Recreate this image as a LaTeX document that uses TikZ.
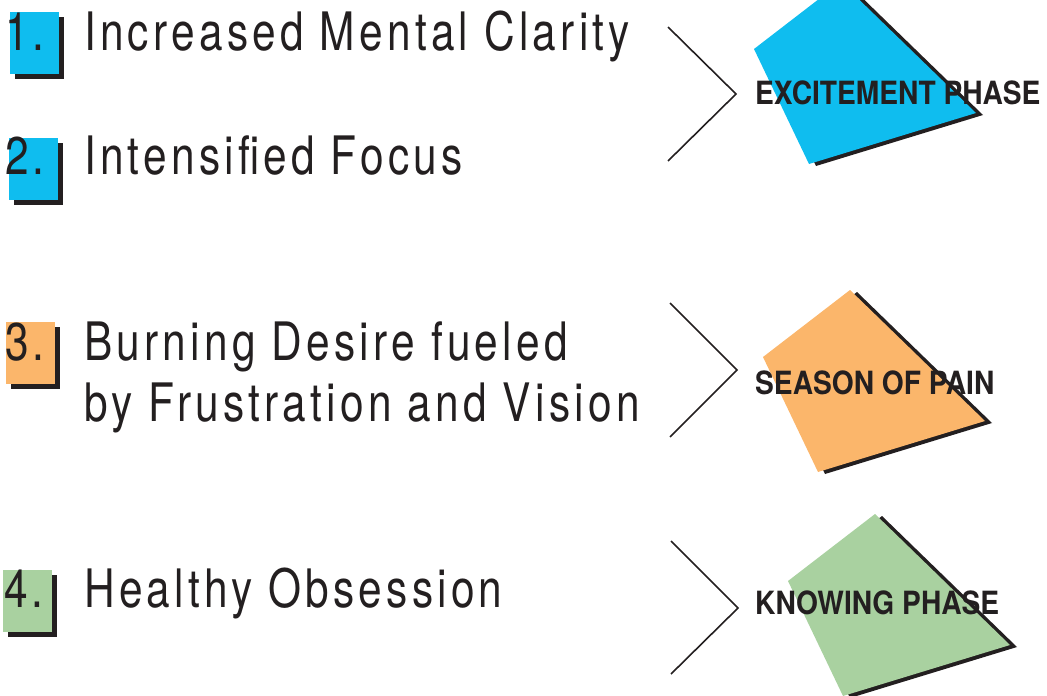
\documentclass[tikz,border=0pt]{standalone}
\usepackage{fontspec}
\usepackage{xcolor}
\usepackage{tikz}
\usetikzlibrary{positioning,calc}
\newfontfamily\itemfont[FakeStretch=0.8,LetterSpace=8]{TeX Gyre Heros}
\newfontfamily\phasefont[FakeStretch=0.88]{TeX Gyre Heros}
\definecolor{inkdark}{HTML}{231F20}
\definecolor{phblue}{HTML}{0FBDEF}
\definecolor{phorange}{HTML}{FBB66B}
\definecolor{phgreen}{HTML}{A9D1A0}

\begin{document}
\begin{tikzpicture}[x=1pt, y=-1pt,
  numtxt/.style={anchor=base west, inner sep=0pt, text=inkdark,
    font=\itemfont\fontsize{53}{61}\selectfont},
  item/.style={anchor=base west, inner sep=0pt, text=inkdark,
    font=\itemfont\fontsize{53}{61}\selectfont},
  phase/.style={anchor=base west, inner sep=0pt, text=inkdark,
    font=\phasefont\bfseries\fontsize{32}{36}\selectfont},
  chev/.style={draw=inkdark, line width=1.6pt, line join=miter},
  shade/.style={fill=inkdark}]
\useasboundingbox (0,0) rectangle (1047,696);
% number squares with their shadows
\foreach \sx/\sy/\col in {10/12/phblue, 9/138/phblue, 6/322/phorange, 3/570/phgreen}{
  \fill[shade] (\sx+5,\sy+5) rectangle (\sx+54,\sy+67);
  \fill[\col] (\sx,\sy) rectangle (\sx+49,\sy+62);
}
\node[numtxt] (n1) at (5,50) {1.};
\node[numtxt] (n2) at (5,174) {2.};
\node[numtxt] (n3) at (5,360) {3.};
\node[numtxt] (n4) at (4,607) {4.};
% the list items
\node[item] (clar) at (84,50) {Increased Mental Clarity};
\node[item] (focus) at (84,174) {Intensified Focus};
\node[item] (desire) at (84,360) {Burning Desire fueled};
\node[item] (vision) at ($(desire.base west)+(0,61)$) {by Frustration and Vision};
\node[item] (obsess) at (84,607) {Healthy Obsession};
% chevrons
\coordinate (c1) at (736,94);
\coordinate (c2) at (737,370);
\coordinate (c3) at (738,608);
\draw[chev] ($(c1)+(-68,-67)$) -- (c1) -- ($(c1)+(-68,67)$);
\draw[chev] ($(c2)+(-67,-67)$) -- (c2) -- ($(c2)+(-67,67)$);
\draw[chev] ($(c3)+(-67,-67)$) -- (c3) -- ($(c3)+(-67,66)$);
% phase shapes
\foreach \lx/\ly/\col in {754/49/phblue, 763/357/phorange, 788/581/phgreen}{
  \fill[shade, shift={(\lx+7,\ly+2)}] (0,0) -- (87,-67) -- (222,64) -- (55,115) -- cycle;
  \fill[\col, shift={(\lx,\ly)}] (0,0) -- (87,-67) -- (222,64) -- (55,115) -- cycle;
}
\node[phase] (exc) at (755,104) {EXCITEMENT PHASE};
\node[phase] (pain) at (755,394) {SEASON OF PAIN};
\node[phase] (know) at (755,614) {KNOWING PHASE};
\end{tikzpicture}
\end{document}
